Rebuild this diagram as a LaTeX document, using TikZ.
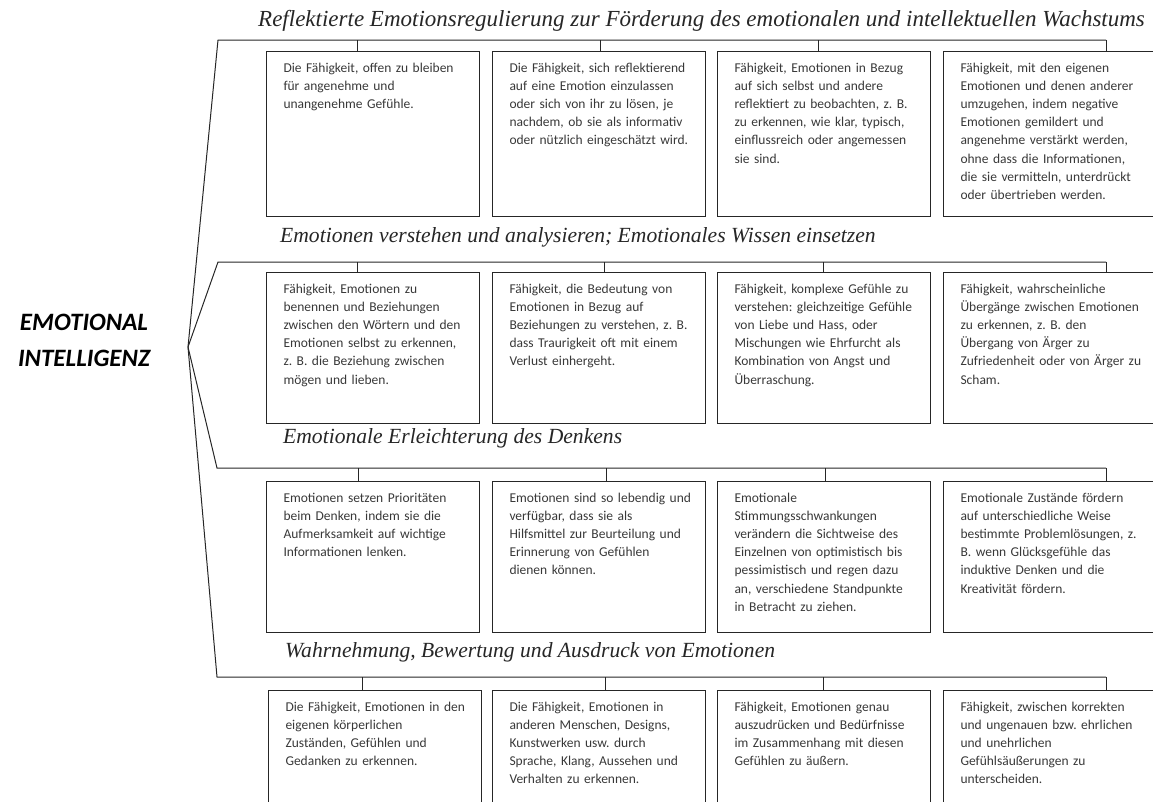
\documentclass[tikz,border=0pt]{standalone}
\usepackage{fontspec}
\setmainfont{Carlito}
\newfontfamily\titlefont{Liberation Serif}
\tikzset{
  itembox/.style={draw=black!85, line width=1pt, anchor=north west, text width=196pt, align=left,
    inner xsep=8.5pt, inner ysep=11pt, text height=10pt, text=black!78,
    font=\fontsize{13.5}{18.1}\selectfont,
    execute at begin node={\leftskip=8.5pt\frenchspacing}},
  branchtitle/.style={anchor=base west, inner sep=0pt, text=black!85,
    font=\titlefont\itshape\fontsize{21.6}{24}\selectfont},
  branch/.style={draw=black!85, line width=1pt},
}
\begin{document}
\begin{tikzpicture}[x=1pt, y=-1pt]
    \useasboundingbox (0,0) rectangle (1153,801);
    \clip (0,0) rectangle (1153,801);
    \node[font=\bfseries\itshape\fontsize{25}{36}\selectfont, align=center] (ei) at (84,340) {EMOTIONAL\\INTELLIGENZ};
    \coordinate (hub) at (188,347);
    \coordinate (k1) at (218,40);  \coordinate (e1) at (1106,40);
    \coordinate (k2) at (218,262); \coordinate (e2) at (1106,262);
    \coordinate (k3) at (217,468); \coordinate (e3) at (1106,468);
    \coordinate (k4) at (217,677); \coordinate (e4) at (1106,677);
    \draw[branch] (hub) -- (k1) -- (e1);
    \draw[branch] (hub) -- (k2) -- (e2);
    \draw[branch] (hub) -- (k3) -- (e3);
    \draw[branch] (hub) -- (k4) -- (e4);
    \node[branchtitle, font=\titlefont\itshape\fontsize{23}{26}\selectfont] (tt1) at (258,26) {Reflektierte Emotionsregulierung zur Förderung des emotionalen und intellektuellen Wachstums};
    \node[branchtitle] (tt2) at (280,242) {Emotionen verstehen und analysieren; Emotionales Wissen einsetzen};
    \node[branchtitle] (tt3) at (283,443) {Emotionale Erleichterung des Denkens};
    \node[branchtitle] (tt4) at (285,657) {Wahrnehmung, Bewertung und Ausdruck von Emotionen};
    % Reihe 1
    \node[itembox, text depth=133pt] (b11) at (266,51) {Die Fähigkeit, offen zu bleiben\\für angenehme und\\unangenehme Gefühle.};
    \node[itembox, text depth=133pt] (b12) at (492,51) {Die Fähigkeit, sich reflektierend\\auf eine Emotion einzulassen\\oder sich von ihr zu lösen, je\\nachdem, ob sie als informativ\\oder nützlich eingeschätzt wird.};
    \node[itembox, text depth=133pt] (b13) at (717,51) {Fähigkeit, Emotionen in Bezug\\auf sich selbst und andere\\reflektiert zu beobachten, z. B.\\zu erkennen, wie klar, typisch,\\einflussreich oder angemessen\\sie sind.};
    \node[itembox, text depth=133pt] (b14) at (943,51) {Fähigkeit, mit den eigenen\\Emotionen und denen anderer\\umzugehen, indem negative\\Emotionen gemildert und\\angenehme verstärkt werden,\\ohne dass die Informationen,\\die sie vermitteln, unterdrückt\\oder übertrieben werden.};
    % Reihe 2
    \node[itembox, text depth=119pt] (b21) at (266,272) {Fähigkeit, Emotionen zu\\benennen und Beziehungen\\zwischen den Wörtern und den\\Emotionen selbst zu erkennen,\\z. B. die Beziehung zwischen\\mögen und lieben.};
    \node[itembox, text depth=119pt] (b22) at (492,272) {Fähigkeit, die Bedeutung von\\Emotionen in Bezug auf\\Beziehungen zu verstehen, z. B.\\dass Traurigkeit oft mit einem\\Verlust einhergeht.};
    \node[itembox, text depth=119pt] (b23) at (717,272) {Fähigkeit, komplexe Gefühle zu\\verstehen: gleichzeitige Gefühle\\von Liebe und Hass, oder\\Mischungen wie Ehrfurcht als\\Kombination von Angst und\\Überraschung.};
    \node[itembox, text depth=119pt] (b24) at (943,272) {Fähigkeit, wahrscheinliche\\Übergänge zwischen Emotionen\\zu erkennen, z. B. den\\Übergang von Ärger zu\\Zufriedenheit oder von Ärger zu\\Scham.};
    % Reihe 3
    \node[itembox, text depth=119pt] (b31) at (266,481) {Emotionen setzen Prioritäten\\beim Denken, indem sie die\\Aufmerksamkeit auf wichtige\\Informationen lenken.};
    \node[itembox, text depth=119pt] (b32) at (492,481) {Emotionen sind so lebendig und\\verfügbar, dass sie als\\Hilfsmittel zur Beurteilung und\\Erinnerung von Gefühlen\\dienen können.};
    \node[itembox, text depth=119pt] (b33) at (717,481) {Emotionale\\Stimmungsschwankungen\\verändern die Sichtweise des\\Einzelnen von optimistisch bis\\pessimistisch und regen dazu\\an, verschiedene Standpunkte\\in Betracht zu ziehen.};
    \node[itembox, text depth=119pt] (b34) at (943,481) {Emotionale Zustände fördern\\auf unterschiedliche Weise\\bestimmte Problemlösungen, z.\\B. wenn Glücksgefühle das\\induktive Denken und die\\Kreativität fördern.};
    % Reihe 4
    \node[itembox, text depth=98pt] (b41) at (268,690) {Die Fähigkeit, Emotionen in den\\eigenen körperlichen\\Zuständen, Gefühlen und\\Gedanken zu erkennen.};
    \node[itembox, text depth=98pt] (b42) at (492,690) {Die Fähigkeit, Emotionen in\\anderen Menschen, Designs,\\Kunstwerken usw. durch\\Sprache, Klang, Aussehen und\\Verhalten zu erkennen.};
    \node[itembox, text depth=98pt] (b43) at (717,690) {Fähigkeit, Emotionen genau\\auszudrücken und Bedürfnisse\\im Zusammenhang mit diesen\\Gefühlen zu äußern.};
    \node[itembox, text depth=98pt] (b44) at (943,690) {Fähigkeit, zwischen korrekten\\und ungenauen bzw. ehrlichen\\und unehrlichen\\Gefühlsäußerungen zu\\unterscheiden.};
    % Striche zu den Kästen
    \coordinate (t11) at (357,40);  \coordinate (t12) at (600,40);  \coordinate (t13) at (818,40);  \coordinate (t14) at (1106,40);
    \coordinate (t21) at (357,262); \coordinate (t22) at (604,262); \coordinate (t23) at (823,262); \coordinate (t24) at (1106,262);
    \coordinate (t31) at (358,468); \coordinate (t32) at (606,468); \coordinate (t33) at (825,468); \coordinate (t34) at (1106,468);
    \coordinate (t41) at (362,677); \coordinate (t42) at (605,677); \coordinate (t43) at (823,677); \coordinate (t44) at (1106,677);
    \draw[branch] (t11) -- (t11 |- b11.north);
    \draw[branch] (t12) -- (t12 |- b12.north);
    \draw[branch] (t13) -- (t13 |- b13.north);
    \draw[branch] (t14) -- (t14 |- b14.north);
    \draw[branch] (t21) -- (t21 |- b21.north);
    \draw[branch] (t22) -- (t22 |- b22.north);
    \draw[branch] (t23) -- (t23 |- b23.north);
    \draw[branch] (t24) -- (t24 |- b24.north);
    \draw[branch] (t31) -- (t31 |- b31.north);
    \draw[branch] (t32) -- (t32 |- b32.north);
    \draw[branch] (t33) -- (t33 |- b33.north);
    \draw[branch] (t34) -- (t34 |- b34.north);
    \draw[branch] (t41) -- (t41 |- b41.north);
    \draw[branch] (t42) -- (t42 |- b42.north);
    \draw[branch] (t43) -- (t43 |- b43.north);
    \draw[branch] (t44) -- (t44 |- b44.north);
\end{tikzpicture}
\end{document}
